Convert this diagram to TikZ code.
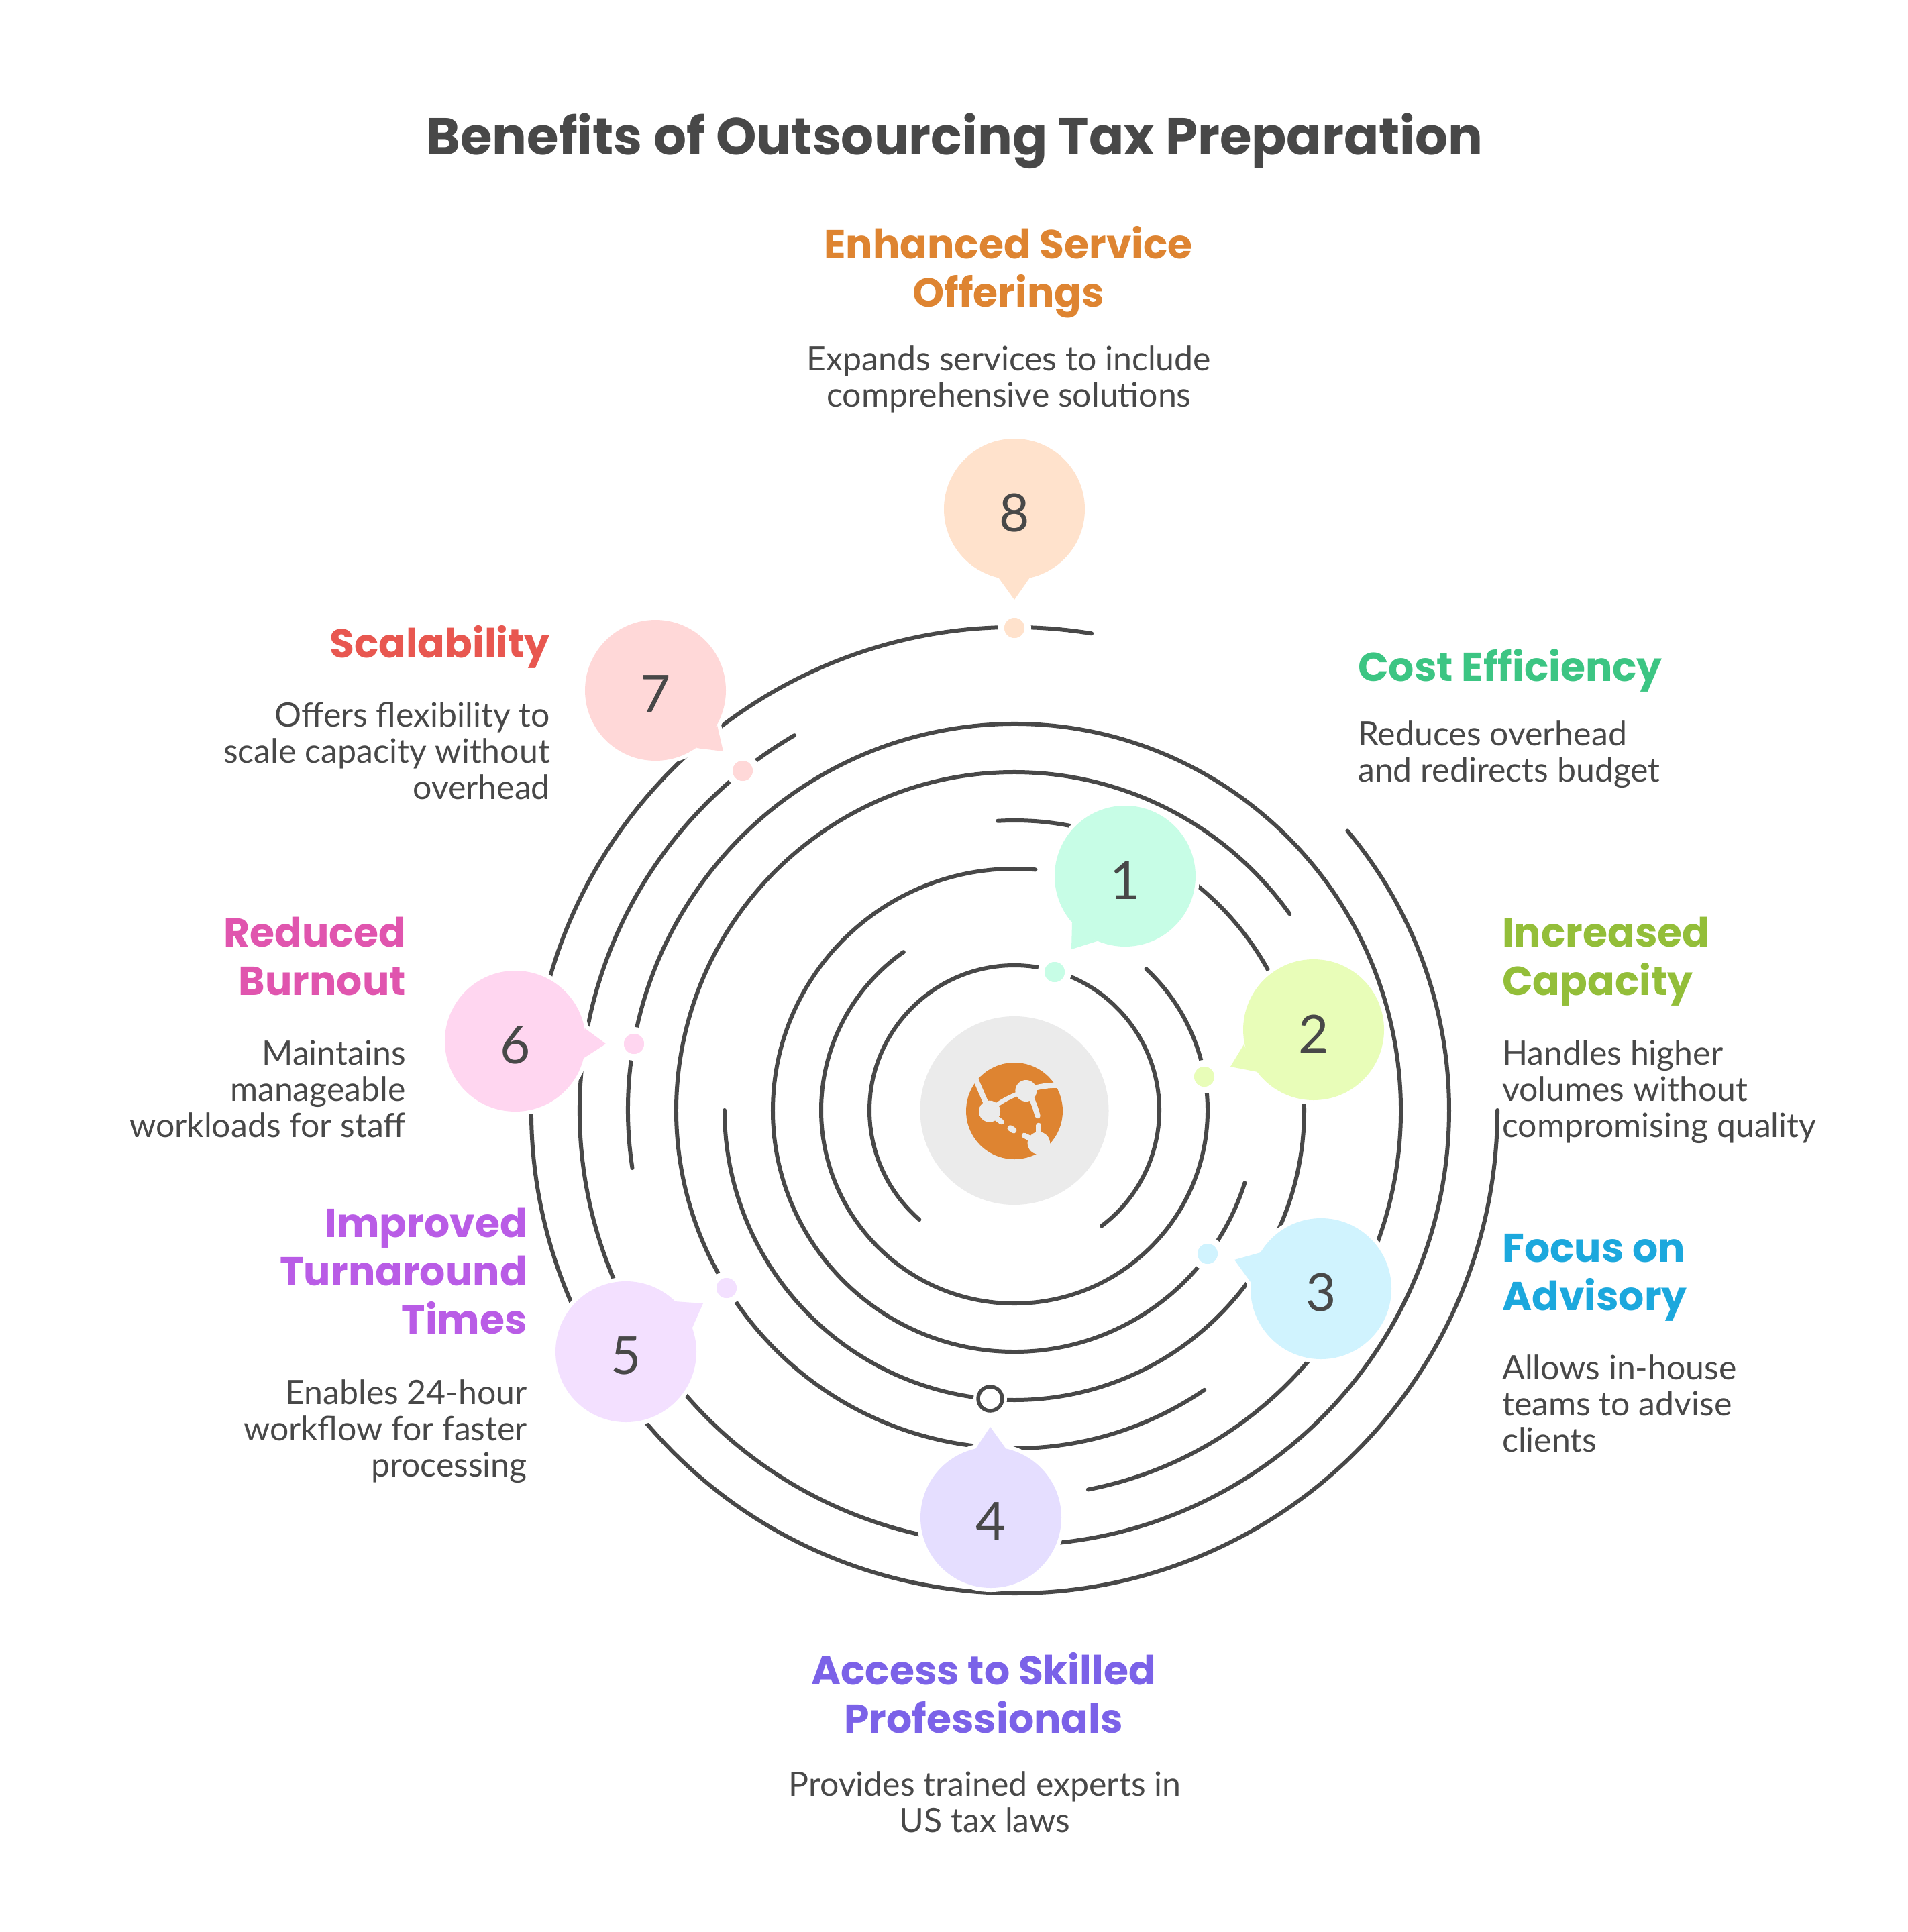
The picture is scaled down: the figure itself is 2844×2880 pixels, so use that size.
\documentclass[tikz,border=0pt]{standalone}
\usepackage{fontspec}
\setmainfont{Lato}
\newfontfamily\headfont{Poppins}
\definecolor{ink}{HTML}{484848}
\definecolor{ringgrey}{HTML}{EBEBEB}
\definecolor{iconorange}{HTML}{DE8431}
\definecolor{hA}{HTML}{3CC583}\definecolor{bA}{HTML}{C7FDE6}
\definecolor{hB}{HTML}{93BE39}\definecolor{bB}{HTML}{E8FDB8}
\definecolor{hC}{HTML}{1CA8DD}\definecolor{bC}{HTML}{D0F3FE}
\definecolor{hD}{HTML}{7B62E8}\definecolor{bD}{HTML}{E5DEFF}
\definecolor{hE}{HTML}{B95CE6}\definecolor{bE}{HTML}{F3E0FF}
\definecolor{hF}{HTML}{E055AE}\definecolor{bF}{HTML}{FFD6F0}
\definecolor{hG}{HTML}{E85750}\definecolor{bG}{HTML}{FFD8D8}
\definecolor{hH}{HTML}{DE8431}\definecolor{bH}{HTML}{FFE2CC}
\tikzset{
  ring/.style={draw=ink,line width=6pt,line cap=round},
  halo/.style={draw=white,fill=white,line width=12pt,line join=round},
  iconline/.style={draw=ringgrey,line width=8pt,line cap=round},
  numtext/.style={text=ink,inner sep=0pt,yshift=-6pt,font=\fontsize{78}{78}\selectfont},
  headtext/.style={inner sep=0pt,font=\headfont\bfseries\fontsize{60}{72}\selectfont},
  bodytext/.style={inner sep=0pt,text=ink,yshift=-3pt,font=\fontsize{50}{54}\selectfont},
  titletext/.style={inner sep=0pt,text=ink,font=\headfont\bfseries\fontsize{77}{78}\selectfont},
}
% #1 name/number  #2 centre  #3 tip  #4 base a  #5 base b  #6 fill
\newcommand{\speechbubble}[6]{%
  \path[halo] #2 circle[radius=105pt];
  \path[halo] #3 -- #4 -- #5 -- cycle;
  \fill[#6] #2 circle[radius=105pt];
  \fill[#6] #3 -- #4 -- #5 -- cycle;
  \node[numtext] (bubble#1) at #2 {#1};
}
\newcommand{\ringarc}[3]{%
  \draw[ring] (c) ++(#2:#1pt) arc[start angle=#2,end angle=#3,radius=#1pt];
}
\newcommand{\orbitdot}[3]{%
  \path[fill=#3,draw=white,line width=10pt] #2 circle[radius=20pt];
  \node[circle,fill=#3,minimum size=30pt,inner sep=0pt] (dot#1) at #2 {};
}
\begin{document}
\begin{tikzpicture}[x=1pt,y=-1pt]
\useasboundingbox (0,0) rectangle (2844,2880);
\fill[white] (0,0) rectangle (2844,2880);
\coordinate (c) at (1512,1655);
% rings
\ringarc{216}{-53}{229}
\ringarc{288}{47}{-235}
\ringarc{360}{85}{342.5}
\ringarc{432}{93.3}{-180}
\ringarc{504}{35.5}{304.2}
\ringarc{576}{188.6}{-79}
\ringarc{648}{120.4}{400}
\ringarc{720}{80.8}{360}
% hub
\node[circle,fill=ringgrey,minimum size=281pt,inner sep=0pt] (hub) at (1512,1655.5) {};
\node[circle,fill=iconorange,minimum size=144pt,inner sep=0pt] (hubicon) at (1512,1656) {};
\begin{scope}[shift={(1420,1565)},x=0.33333pt,y=-0.33333pt]
  \fill[ringgrey] (165,275) circle[radius=16pt];
  \fill[ringgrey] (328,183) circle[radius=16pt];
  \fill[ringgrey] (385,417) circle[radius=16.7pt];
  \begin{scope}
    \clip (275,275) circle[radius=77pt];
    \draw[iconline,line cap=butt] (165,275) -- (100,125);
    \draw[iconline,line cap=butt] (328,183) .. controls (375,165) and (420,158) .. (480,158);
  \end{scope}
  \draw[iconline,line width=6.5pt] (165,275) .. controls (205,235) and (250,210) .. (328,183);
  \draw[iconline] (345,200) .. controls (360,230) and (370,260) .. (380,295);
  \draw[iconline] (195,305) -- (218,322);
  \draw[iconline,line width=9pt] (258,350) -- (273,360);
  \draw[iconline] (320,383) -- (350,397);
  \draw[iconline] (385,338) -- (385,385);
  % the blob at the lower right opens onto the grey disc
  \fill[ringgrey] (378,462) -- (435,418) -- (455,470) -- cycle;
\end{scope}
% bubbles
\speechbubble{1}{(1677,1306)}{(1597,1415)}{(1598,1375)}{(1635,1403)}{bA}
\speechbubble{2}{(1958,1535)}{(1834,1590)}{(1854,1557)}{(1875,1598)}{bB}
\speechbubble{3}{(1969,1921)}{(1840,1878)}{(1879,1867)}{(1864,1911)}{bC}
\speechbubble{4}{(1477,2262)}{(1476,2127)}{(1454,2160)}{(1499,2159)}{bD}
\speechbubble{5}{(933,2015)}{(1048,1943)}{(1006,1940)}{(1032,1979)}{bE}
\speechbubble{6}{(768,1552)}{(903,1556)}{(872,1533)}{(869,1578)}{bF}
\speechbubble{7}{(977,1029)}{(1078,1120)}{(1069,1081)}{(1038,1115)}{bG}
\speechbubble{8}{(1512,759)}{(1512,894)}{(1489,862)}{(1535,861)}{bH}
% dots
\orbitdot{1}{(1572,1449)}{bA}
\orbitdot{2}{(1795,1605)}{bB}
\orbitdot{3}{(1800,1869)}{bC}
\path[draw=white,fill=white,line width=10pt] (1476,2085) circle[radius=20pt];
\node[circle,draw=ink,fill=white,line width=5.5pt,minimum size=36pt,inner sep=0pt] (dot4) at (1476,2085) {};
\orbitdot{5}{(1083,1920)}{bE}
\orbitdot{6}{(945,1556)}{bF}
\orbitdot{7}{(1107,1149)}{bG}
\orbitdot{8}{(1512,936)}{bH}
% text (a multi-line node's base anchor sits on its last line)
\node[titletext,anchor=base] (title) at (1423,230) {Benefits of Outsourcing Tax Preparation};
\node[headtext,text=hH,anchor=base,align=center] (h8) at (1503,457) {Enhanced Service\\Offerings};
\node[bodytext,anchor=base,align=center] (t8) at (1504,603) {Expands services to include\\comprehensive solutions};
\node[headtext,text=hA,anchor=base west,align=left] (h1) at (2024,1015) {Cost Efficiency};
\node[bodytext,anchor=base west,align=left] (t1) at (2024,1162) {Reduces overhead\\and redirects budget};
\node[headtext,text=hB,anchor=base west,align=left] (h2) at (2239,1483) {Increased\\Capacity};
\node[bodytext,anchor=base west,align=left] (t2) at (2239,1692) {Handles higher\\volumes without\\compromising quality};
\node[headtext,text=hC,anchor=base west,align=left] (h3) at (2239,1953) {Focus on\\Advisory};
\node[bodytext,anchor=base west,align=left] (t3) at (2239,2161) {Allows in-house\\teams to advise\\clients};
\node[headtext,text=hD,anchor=base,align=center] (h4) at (1466,2583) {Access to Skilled\\Professionals};
\node[bodytext,anchor=base,align=center] (t4) at (1468,2728) {Provides trained experts in\\US tax laws};
\node[headtext,text=hE,anchor=base east,align=right] (h5) at (786,1988) {Improved\\Turnaround\\Times};
\node[bodytext,anchor=base east,align=right] (t5) at (786,2198) {Enables 24-hour\\workflow for faster\\processing};
\node[headtext,text=hF,anchor=base east,align=right] (h6) at (605,1483) {Reduced\\Burnout};
\node[bodytext,anchor=base east,align=right] (t6) at (605,1692) {Maintains\\manageable\\workloads for staff};
\node[headtext,text=hG,anchor=base east,align=right] (h7) at (820,980) {Scalability};
\node[bodytext,anchor=base east,align=right] (t7) at (820,1188) {Offers flexibility to\\scale capacity without\\overhead};
\end{tikzpicture}
\end{document}
